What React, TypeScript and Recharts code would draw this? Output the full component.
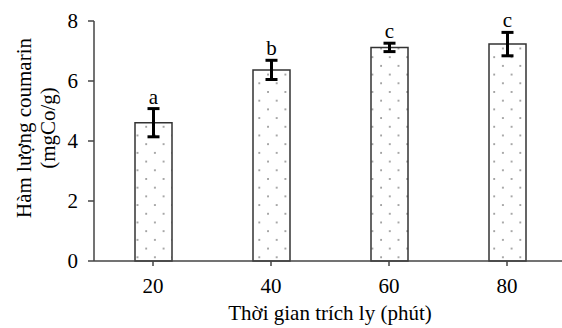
import React from 'react';
import { BarChart, Bar, XAxis, YAxis, ErrorBar, LabelList, Label } from 'recharts';

const times = ['20', '40', '60', '80'];
const coumarin = [4.61, 6.37, 7.12, 7.23];
const errors = [0.47, 0.32, 0.14, 0.39];
const letters = ['a', 'b', 'c', 'c'];
const yTicks = [0, 2, 4, 6, 8];

const data = times.map((t, i) => ({
  time: t,
  value: coumarin[i],
  err: errors[i],
  letter: letters[i],
}));

const FONT = '"Liberation Serif", "Times New Roman", serif';
const FS = 21;

// letter sits just above the top of the error bar
const LetterLabel = (props: any) => {
  const { x, y, width, height, index } = props;
  const d = data[index];
  const pxPerUnit = height / d.value;
  const top = y - d.err * pxPerUnit;
  return (
    <text x={x + width / 2} y={top - 5} textAnchor="middle" fontFamily={FONT} fontSize={FS} fill="#000">
      {d.letter}
    </text>
  );
};

const YTitle = () => {
  const cx = 36;
  const cy = 128;
  return (
    <text transform={`rotate(-90, ${cx}, ${cy})`} x={cx} y={cy} textAnchor="middle" fontFamily={FONT} fontSize={FS} fill="#000">
      <tspan x={cx} dy={-5}>Hàm lượng coumarin</tspan>
      <tspan x={cx} dy={24}>(mgCo/g)</tspan>
    </text>
  );
};

export default function App() {
  return (
    <div style={{ position: 'fixed', left: 0, top: 0, width: 562, height: 328, overflow: 'hidden', background: '#fff' }}>
      <BarChart width={570} height={328} data={data} margin={{ top: 21, right: 4, left: 0, bottom: 0 }}>
        <defs>
          <pattern id="dots" patternUnits="userSpaceOnUse" width={17.4} height={17.4} x={6} y={4}>
            <rect x={0} y={0} width={17.4} height={17.4} fill="#fff" />
            <circle cx={1} cy={1} r={0.8} fill="#333" />
            <circle cx={9.7} cy={9.7} r={0.8} fill="#333" />
          </pattern>
        </defs>
        <XAxis
          dataKey="time"
          height={67}
          stroke="#444"
          strokeWidth={1.5}
          tickSize={5}
          tickMargin={12}
          tick={{ fill: '#000', fontSize: FS, fontFamily: FONT }}
        >
          <Label value="Thời gian trích ly (phút)" position="insideBottom" offset={8} style={{ fill: '#000', fontSize: FS, fontFamily: FONT }} />
        </XAxis>
        <YAxis
          width={94}
          domain={[0, 8]}
          ticks={yTicks}
          stroke="#444"
          strokeWidth={1.5}
          tickSize={6}
          tickMargin={10}
          tick={{ fill: '#000', fontSize: FS, fontFamily: FONT }}
          label={<YTitle />}
        />
        <Bar dataKey="value" barSize={37} fill="url(#dots)" stroke="#333" strokeWidth={1.5} isAnimationActive={false}>
          <ErrorBar dataKey="err" width={6} stroke="#000" strokeWidth={3} />
          <LabelList dataKey="letter" content={<LetterLabel />} />
        </Bar>
      </BarChart>
    </div>
  );
}
